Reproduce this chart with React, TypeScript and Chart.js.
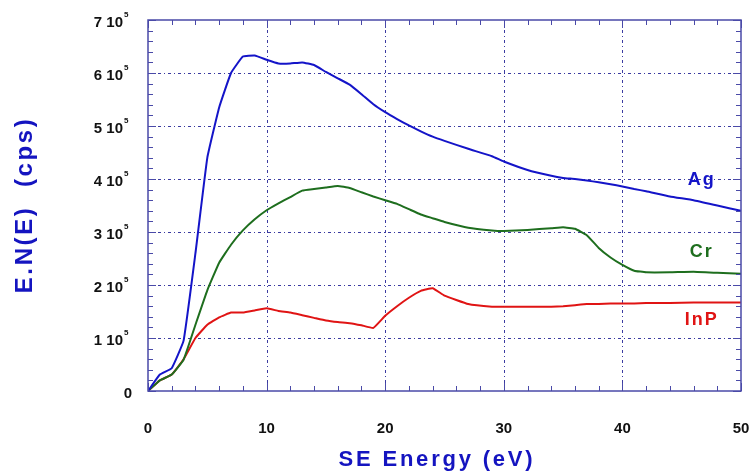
import React, { useEffect, useRef } from "react";
import { Chart, registerables } from "chart.js";

Chart.register(...registerables);

const energy = [0, 1, 2, 3, 4, 5, 6, 7, 8, 9, 10, 11, 12, 13, 14, 15, 16, 17, 18, 19, 20, 21, 22, 23, 24, 25, 27, 29, 30, 32, 34, 35, 36, 37, 38, 39, 40, 41, 42, 44, 46, 48, 50];
const agCounts = [0, 31, 43, 95, 260, 440, 535, 600, 631, 633, 625, 618, 618, 620, 615, 602, 590, 578, 560, 541, 526, 513, 501, 490, 480, 472, 457, 443, 433, 417, 406, 402, 400, 397, 394, 390, 386, 381, 377, 367, 360, 350, 340];
const crCounts = [0, 20, 31, 59, 125, 190, 242, 276, 303, 324, 341, 354, 366, 378, 381, 384, 387, 383, 375, 367, 360, 353, 343, 333, 326, 319, 308, 303, 302, 304, 307, 309, 306, 294, 270, 252, 238, 227, 224, 224, 225, 223, 221];
const inpCounts = [0, 20, 31, 60, 100, 125, 139, 148, 148, 152, 156, 151, 148, 143, 138, 133, 130, 128, 124, 119, 142, 160, 176, 189, 194, 180, 164, 159, 159, 159, 159, 160, 162, 164, 164, 165, 165, 165, 166, 166, 167, 167, 167];

const xTicks = [0, 10, 20, 30, 40, 50];
const yTickMantissa = [0, 1, 2, 3, 4, 5, 6, 7];
const seriesNames = ["Ag", "Cr", "InP"];
const seriesColors = ["#1414c8", "#1e6e1e", "#e01414"];
const labelPos = [
  { x: 46.6, y: 388 },
  { x: 46.6, y: 253 },
  { x: 46.6, y: 125 },
];

const frameColor = "#4a4aa8";
const gridColor = "#3a3aa0";

const framePlugin = {
  id: "framePlugin",
  beforeDatasetsDraw(chart: any) {
    const { ctx, chartArea: a, scales } = chart;
    const xs = scales.x, ys = scales.y;
    ctx.save();
    ctx.strokeStyle = gridColor;
    ctx.lineWidth = 1;
    ctx.setLineDash([3, 3, 1, 3]);
    for (const t of xTicks) {
      if (t === 0 || t === 50) continue;
      const px = Math.round(xs.getPixelForValue(t)) + 0.5;
      ctx.beginPath();
      ctx.moveTo(px, a.top);
      ctx.lineTo(px, a.bottom);
      ctx.stroke();
    }
    for (const m of yTickMantissa) {
      if (m === 0 || m === 7) continue;
      const py = Math.round(ys.getPixelForValue(m * 1e5)) + 0.5;
      ctx.beginPath();
      ctx.moveTo(a.left, py);
      ctx.lineTo(a.right, py);
      ctx.stroke();
    }
    ctx.restore();
  },
  afterDraw(chart: any) {
    const { ctx, chartArea: a, scales } = chart;
    const xs = scales.x, ys = scales.y;
    ctx.save();
    ctx.strokeStyle = frameColor;
    ctx.lineWidth = 1.5;
    ctx.setLineDash([]);
    ctx.strokeRect(a.left, a.top, a.right - a.left, a.bottom - a.top);
    ctx.lineWidth = 1;
    for (let v = 0; v <= 50; v += 2) {
      const px = Math.round(xs.getPixelForValue(v)) + 0.5;
      const len = v % 10 === 0 ? 8 : 5;
      ctx.beginPath();
      ctx.moveTo(px, a.bottom);
      ctx.lineTo(px, a.bottom - len);
      ctx.moveTo(px, a.top);
      ctx.lineTo(px, a.top + len);
      ctx.stroke();
    }
    for (let v = 0; v <= 700000; v += 20000) {
      const py = Math.round(ys.getPixelForValue(v)) + 0.5;
      const len = v % 100000 === 0 ? 8 : 5;
      ctx.beginPath();
      ctx.moveTo(a.left, py);
      ctx.lineTo(a.left + len, py);
      ctx.moveTo(a.right, py);
      ctx.lineTo(a.right - len, py);
      ctx.stroke();
    }
    ctx.fillStyle = "#111111";
    ctx.font = "bold 15px 'Liberation Sans', Arial, sans-serif";
    ctx.textAlign = "center";
    ctx.textBaseline = "alphabetic";
    for (const t of xTicks) {
      ctx.fillText(String(t), xs.getPixelForValue(t), 433);
    }
    for (const m of yTickMantissa) {
      const py = ys.getPixelForValue(m * 1e5);
      ctx.font = "bold 15px 'Liberation Sans', Arial, sans-serif";
      ctx.textAlign = "right";
      if (m === 0) {
        ctx.fillText("0", 132, py + 7);
        continue;
      }
      ctx.fillText(m + " 10", 123, py + 7);
      ctx.font = "bold 8px 'Liberation Sans', Arial, sans-serif";
      ctx.textAlign = "left";
      ctx.fillText("5", 124, py - 3);
    }
    ctx.font = "bold 18px 'Liberation Sans', Arial, sans-serif";
    (ctx as any).letterSpacing = "2px";
    ctx.textAlign = "center";
    seriesNames.forEach((n, i) => {
      ctx.fillStyle = seriesColors[i];
      ctx.fillText(n, xs.getPixelForValue(labelPos[i].x) + 1, ys.getPixelForValue(labelPos[i].y * 1000));
    });
    ctx.fillStyle = "#1414c0";
    ctx.font = "bold 22px 'Liberation Sans', Arial, sans-serif";
    (ctx as any).letterSpacing = "2.8px";
    ctx.textAlign = "center";
    ctx.fillText("SE Energy (eV)", 437, 466);
    ctx.save();
    ctx.translate(32, 205);
    ctx.rotate(-Math.PI / 2);
    ctx.font = "bold 24px 'Liberation Sans', Arial, sans-serif";
    (ctx as any).letterSpacing = "2.6px";
    ctx.fillText("E.N(E)  (cps)", 0, 0);
    ctx.restore();
    (ctx as any).letterSpacing = "0px";
    ctx.restore();
  },
};

export default function App() {
  const ref = useRef<HTMLCanvasElement | null>(null);
  useEffect(() => {
    document.body.style.margin = "0";
    const canvas = ref.current!;
    const mk = (vals: number[]) => energy.map((e, i) => ({ x: e, y: vals[i] * 1000 }));
    const chart = new Chart(canvas, {
      type: "line",
      data: {
        datasets: [agCounts, crCounts, inpCounts].map((vals, i) => ({
          label: seriesNames[i],
          data: mk(vals),
          borderColor: seriesColors[i],
          borderWidth: 2,
          pointRadius: 0,
          tension: 0.1,
          fill: false,
        })),
      },
      options: {
        responsive: false,
        animation: false,
        layout: { padding: { left: 148, right: 11, top: 20, bottom: 82 } },
        plugins: { legend: { display: false }, tooltip: { enabled: false } },
        scales: {
          x: { type: "linear", min: 0, max: 50, display: false },
          y: { type: "linear", min: 0, max: 700000, display: false },
        },
      },
      plugins: [framePlugin],
    });
    return () => chart.destroy();
  }, []);
  return (
    <div style={{ width: 752, height: 473, background: "#ffffff" }}>
      <canvas ref={ref} width={752} height={473} style={{ display: "block" }} />
    </div>
  );
}
